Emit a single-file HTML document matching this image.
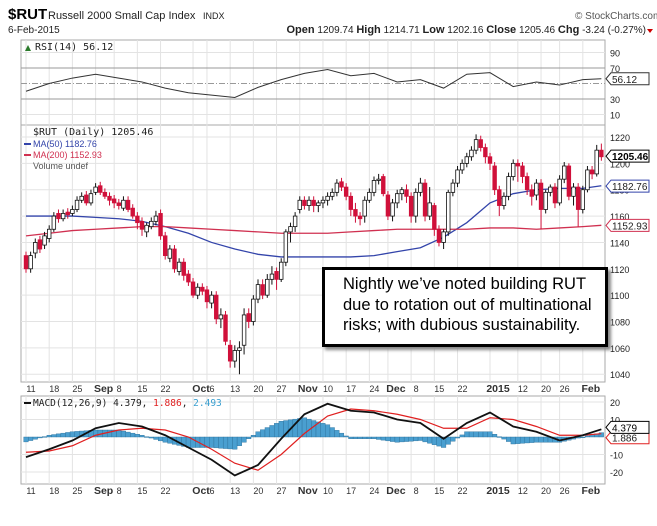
<!DOCTYPE html>
<html><head><meta charset="utf-8">
<style>
html,body{margin:0;padding:0;background:#fff;}
body{width:657px;height:526px;overflow:hidden;position:relative;font-family:"Liberation Sans",sans-serif;}
svg{position:absolute;left:0;top:0;}
.note{position:absolute;left:322px;top:267px;width:262px;height:70px;border:3px solid #000;background:#fff;box-shadow:3px 3px 3px #888;font-size:16.5px;line-height:20.5px;padding:4px 0 0 18px;box-sizing:content-box;color:#000;}
</style></head>
<body>
<svg id="chart" width="657" height="526" viewBox="0 0 657 526"></svg>
<div class="note">Nightly we’ve noted building RUT<br>due to rotation out of multinational<br>risks; with dubious sustainability.</div>
<script>
const opens=[1130,1120,1132,1142,1138,1143,1150,1162,1158,1163,1162,1165,1172,1176,1170,1178,1183,1178,1175,1173,1170,1166,1172,1166,1160,1156,1148,1152,1156,1162,1145,1128,1135,1118,1125,1116,1110,1100,1106,1104,1094,1100,1082,1085,1062,1050,1058,1062,1086,1080,1097,1108,1100,1112,1118,1112,1125,1148,1152,1165,1172,1168,1172,1168,1170,1172,1175,1178,1186,1182,1175,1165,1160,1160,1172,1178,1187,1190,1176,1160,1170,1177,1180,1175,1160,1178,1185,1160,1168,1150,1140,1148,1178,1185,1195,1200,1205,1210,1218,1212,1205,1198,1180,1168,1175,1190,1200,1198,1190,1180,1176,1185,1165,1178,1182,1170,1188,1198,1175,1182,1165,1180,1195,1192,1210];
const closes=[1120,1130,1140,1135,1145,1150,1160,1158,1162,1161,1165,1172,1175,1170,1177,1182,1178,1175,1172,1170,1168,1172,1165,1160,1155,1150,1153,1156,1160,1145,1130,1135,1120,1125,1115,1110,1100,1106,1103,1095,1100,1082,1085,1065,1050,1058,1060,1085,1080,1097,1108,1100,1112,1116,1112,1125,1148,1152,1160,1172,1168,1172,1168,1170,1172,1175,1178,1185,1182,1175,1165,1160,1158,1172,1178,1187,1188,1177,1160,1170,1177,1180,1175,1160,1178,1185,1160,1170,1150,1140,1148,1178,1185,1195,1200,1205,1210,1218,1212,1205,1200,1180,1168,1175,1190,1200,1198,1190,1180,1175,1185,1165,1178,1182,1170,1188,1198,1175,1182,1165,1180,1195,1192,1210,1205];
const highs=[1133,1133,1143,1145,1148,1153,1163,1165,1165,1166,1168,1175,1178,1179,1180,1185,1186,1181,1178,1176,1173,1175,1175,1169,1163,1159,1155,1159,1164,1165,1148,1138,1138,1128,1128,1119,1113,1109,1109,1107,1103,1103,1090,1088,1066,1062,1065,1090,1090,1100,1112,1112,1116,1122,1121,1128,1150,1155,1163,1175,1175,1175,1175,1172,1175,1178,1181,1188,1189,1185,1178,1170,1163,1175,1181,1190,1192,1192,1179,1173,1180,1182,1184,1178,1181,1189,1188,1182,1170,1153,1150,1180,1188,1198,1203,1208,1213,1222,1221,1215,1208,1201,1183,1178,1193,1203,1203,1201,1193,1184,1188,1188,1180,1184,1185,1191,1201,1200,1185,1185,1183,1198,1198,1214,1215];
const lows=[1117,1117,1128,1132,1135,1140,1148,1155,1156,1158,1160,1163,1170,1168,1168,1176,1176,1173,1168,1166,1165,1164,1163,1158,1150,1145,1144,1150,1153,1142,1127,1125,1117,1115,1111,1107,1098,1097,1100,1090,1090,1078,1075,1062,1045,1045,1040,1055,1075,1077,1094,1097,1098,1108,1104,1110,1122,1140,1148,1162,1165,1164,1163,1163,1166,1168,1172,1175,1179,1172,1160,1155,1153,1155,1170,1175,1184,1175,1157,1156,1166,1172,1170,1155,1155,1175,1156,1157,1145,1137,1135,1145,1175,1182,1192,1197,1202,1207,1209,1200,1195,1176,1160,1165,1172,1187,1186,1185,1176,1168,1172,1150,1162,1175,1166,1168,1185,1172,1168,1152,1162,1178,1188,1190,1202];
const ma50=[1160,1160,1160,1159,1158,1156,1152,1147,1140,1135,1131,1129,1129,1129,1129,1130,1133,1136,1144,1155,1170,1177,1180,1181,1181,1183];
const ma200=[1145,1147,1149,1150,1151,1152,1152,1151,1150,1149,1148,1147,1147,1147,1148,1149,1150,1150,1150,1150,1151,1151,1150,1151,1152,1153];
const rsi=[40,50,57,62,57,52,44,38,35,32,45,55,63,68,60,63,52,55,44,62,64,46,52,48,55,56.12];
const macd=[-11.5,-7,-2,5,8,6,1,-6,-13,-22,-16,-1,13,19,15,14,10,8,-1,8,14,6,3,-2,1,4.4];
const signal=[-8.7,-8,-5,1,4,5,4,0,-7,-15,-19,-10,2,12,16,15,13,10,5,5,11,10,6,1,1,1.9];
const dateLabels=["11","18","25","Sep","8","15","22","Oct","6","13","20","27","Nov","10","17","24","Dec","8","15","22","2015","12","20","26","Feb"];
const dateIdx=[0,5,10,15,19,24,29,36,39,44,49,54,59,64,69,74,78,83,88,93,100,106,111,115,120];
const priceTicks=[1040,1060,1080,1100,1120,1140,1160,1180,1200,1220];
const rsiTicks=[10,30,70,90];
const macdTicks=[-20,-10,10,20];

const NS="http://www.w3.org/2000/svg";
const svg=document.getElementById('chart');
const L=21,R=605;
const x=i=>26+i*4.64;
const wx=k=>x(Math.min(k*5,124));
const py=p=>137+(1220-p)*1.318;
const ry=v=>83.5-(v-50)*0.775;
const my=v=>437-v*1.75;
function mk(tag,attrs,parent){const e=document.createElementNS(NS,tag);for(const k in attrs)e.setAttribute(k,attrs[k]);(parent||svg).appendChild(e);return e;}
function txt(s,xx,yy,attrs){const e=mk('text',Object.assign({x:xx,y:yy,'font-family':'"Liberation Sans",sans-serif','font-size':10,fill:'#222'},attrs||{}));e.textContent=s;return e;}

// header
let t=txt('$RUT',8,19,{'font-size':15,'font-weight':'bold',fill:'#000'});


t=txt('Russell 2000 Small Cap Index',48,19,{'font-size':11});


t=txt('INDX',203,19,{'font-size':9});


t=txt('© StockCharts.com',575,19,{'font-size':10,fill:'#555'});


t=txt('6-Feb-2015',8,33,{'font-size':10});


t=mk('text',{x:646,y:33,'text-anchor':'end','font-family':'"Liberation Sans",sans-serif','font-size':10,fill:'#222'});
t.innerHTML='<tspan font-weight="bold" font-size="11">Open</tspan> 1209.74 <tspan font-weight="bold" font-size="11">High</tspan> 1214.71 <tspan font-weight="bold" font-size="11">Low</tspan> 1202.16 <tspan font-weight="bold" font-size="11">Close</tspan> 1205.46 <tspan font-weight="bold" font-size="11">Chg</tspan> -3.24 (-0.27%)';


t=mk('path',{d:'M647,29 l6,0 l-3,4 z',fill:'#c00'});



// panels
function panel(name,y0,y1){const r=mk('rect',{x:L,y:y0,width:R-L,height:y1-y0,fill:'#fff',stroke:'#aaa','stroke-width':1});}
panel('rsi-panel',40,125);
panel('price-panel',125,382);
panel('macd-panel',396,484);
// vertical grid
dateIdx.forEach((d,i)=>{
  [[40,125],[125,382],[396,484]].forEach(([a,b])=>{const g=mk('line',{x1:x(d),x2:x(d),y1:a,y2:b,stroke:'#e3e3e3','stroke-width':1});});
  [389,491].forEach(yy=>{const bold=isNaN(+dateLabels[i])||dateLabels[i]==='2015';const l=txt(dateLabels[i],x(d)+(bold?8:5),yy+3,{'font-size':bold?10.5:9,'font-weight':bold?'bold':'normal','text-anchor':'middle',fill:'#333'});});
});
// RSI
rsiTicks.forEach(v=>{const g=mk('line',{x1:L,x2:R,y1:ry(v),y2:ry(v),stroke:(v===70||v===30)?'#999':'#e3e3e3','stroke-width':1});const l=txt(v,610,ry(v)+4,{'font-size':9});});
t=mk('line',{x1:L,x2:R,y1:ry(50),y2:ry(50),stroke:'#999','stroke-dasharray':'6,2,1,2'});


t=mk('polyline',{points:rsi.map((v,k)=>wx(k)+','+ry(v)).join(' '),fill:'none',stroke:'#333','stroke-width':1});


t=txt('RSI(14) 56.12',35,50,{'font-size':10,'font-family':'"DejaVu Sans Mono",monospace'});


t=mk('path',{d:'M25,51 l3,-6 l3,6 z',fill:'#2a7a2a'});


// price grid
priceTicks.forEach(p=>{const g=mk('line',{x1:L,x2:R,y1:py(p),y2:py(p),stroke:'#e3e3e3'});const l=txt(p,610,py(p)+4,{'font-size':9});});
// MAs
t=mk('polyline',{points:ma50.map((v,k)=>wx(k)+','+py(v)).join(' '),fill:'none',stroke:'#3344aa','stroke-width':1.3});


t=mk('polyline',{points:ma200.map((v,k)=>wx(k)+','+py(v)).join(' '),fill:'none',stroke:'#d03050','stroke-width':1.3});


// candles
closes.forEach((c,i)=>{
  const o=opens[i],prev=i?closes[i-1]:o;
  const col=c<prev?'#d0103a':'#111';
  const hollow=c>=o;
  const g=mk('g',{});
  
  
  mk('line',{x1:x(i),x2:x(i),y1:py(highs[i]),y2:py(lows[i]),stroke:col,'stroke-width':1},g);
  const top=py(Math.max(o,c)),h=Math.max(1,Math.abs(py(o)-py(c)));
  mk('rect',{x:x(i)-1.8,y:top,width:3.6,height:h,fill:hollow?'#fff':col,stroke:col,'stroke-width':0.8},g);
});
// price legend
t=txt('$RUT (Daily) 1205.46',33,135,{'font-size':10,'font-family':'"DejaVu Sans Mono",monospace',fill:'#222'});


t=txt('MA(50) 1182.76',33,147,{'font-size':9,fill:'#3344aa'});


t=txt('MA(200) 1152.93',33,158,{'font-size':9,fill:'#d03050'});


t=txt('Volume undef',33,169,{'font-size':9,fill:'#555'});


[[144,'#3344aa'],[155,'#d03050']].forEach(([yy,c])=>{const l=mk('line',{x1:24,x2:31,y1:yy,y2:yy,stroke:c,'stroke-width':2});});
// value tags
function tag(name,val,yy,stroke,fill,color,bold){const g=mk('g',{});mk('path',{d:`M606,${yy} l5,-6 h38 v12 h-38 z`,fill:fill,stroke:stroke,'stroke-width':1},g);const e=mk('text',{x:612,y:yy+4,'font-family':'"Liberation Sans",sans-serif','font-size':10,'font-weight':bold?'bold':'normal',fill:color},g);e.textContent=val;}
tag('rsi-value-tag','56.12',ry(56.12),'#333','#fff','#222');
tag('ma200-value-tag','1152.93',py(1152.93),'#d03050','#fff','#222');
tag('ma50-value-tag','1182.76',py(1182.76),'#3344aa','#fff','#222');
tag('close-value-tag','1205.46',py(1205.46),'#000','#fff','#000',true);
// MACD
macdTicks.forEach(v=>{const g=mk('line',{x1:L,x2:R,y1:my(v),y2:my(v),stroke:'#e3e3e3'});const l=txt(v,610,my(v)+4,{'font-size':9});});
for(let i=0;i<125;i++){
  const k=Math.min(Math.floor(i/5),24);const k2=k+1;const i0=k*5,i1=Math.min(k2*5,124);
  const f=i1>i0?(i-i0)/(i1-i0):0;
  const h=(macd[k]-signal[k])*(1-f)+(macd[k2]-signal[k2])*f;
  const b=mk('rect',{x:x(i)-2.3,y:Math.min(my(0),my(h)),width:4.6,height:Math.max(0.8,Math.abs(my(h)-my(0))),fill:'#4a9fd0',stroke:'#2a6f9a','stroke-width':0.4});
  
  
}
t=mk('polyline',{points:signal.map((v,k)=>wx(k)+','+my(v)).join(' '),fill:'none',stroke:'#e02020','stroke-width':1.2});


t=mk('polyline',{points:macd.map((v,k)=>wx(k)+','+my(v)).join(' '),fill:'none',stroke:'#111','stroke-width':1.8});


t=mk('text',{x:33,y:406,'font-family':'"DejaVu Sans Mono",monospace','font-size':9.5,fill:'#222'});
t.innerHTML='MACD(12,26,9) 4.379, <tspan fill="#e02020">1.886</tspan>, <tspan fill="#3a9fd0">2.493</tspan>';


t=mk('line',{x1:24,x2:31,y1:403,y2:403,stroke:'#111','stroke-width':2});


tag('macd-signal-tag','1.886',my(1.886)+4,'#e02020','#fff','#222');
tag('macd-value-tag','4.379',my(4.379)-2,'#000','#fff','#000');
</script>
</body></html>
